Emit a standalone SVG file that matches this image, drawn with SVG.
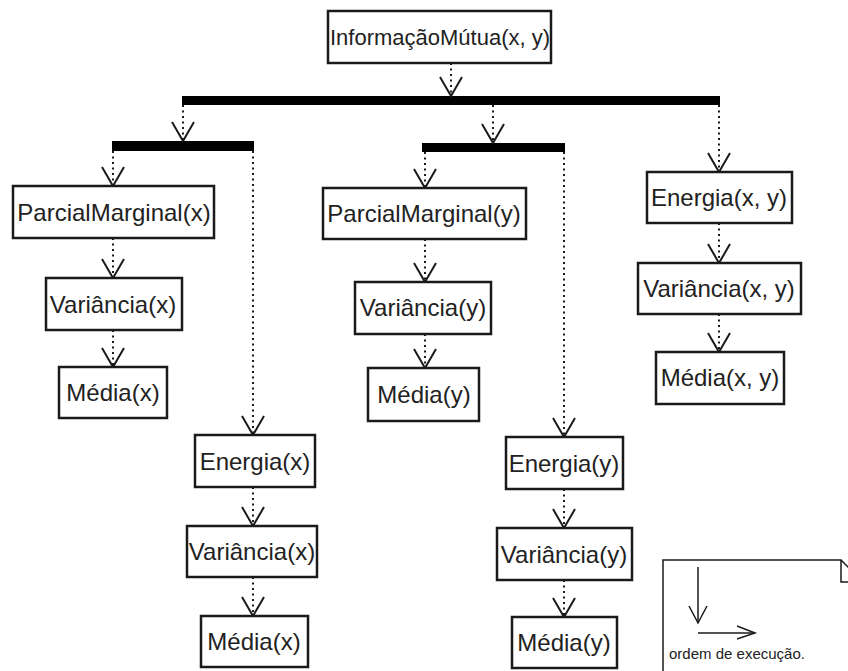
<svg xmlns="http://www.w3.org/2000/svg" width="848" height="671" viewBox="0 0 848 671">
  <style>
    .box rect { fill: #fff; stroke: #1a1a1a; stroke-width: 2.5; }
    .box text { font-family: "Liberation Sans", Arial, sans-serif; font-size: 24px; fill: #222; text-anchor: middle; }
    .flow { stroke: #1a1a1a; stroke-width: 2; stroke-dasharray: 2 3.5; fill: none; marker-end: url(#open); }
    .bar { fill: #000; }
    .legend { stroke: #1a1a1a; stroke-width: 1.5; fill: none; }
  </style>
  <defs>
    <marker id="open" markerUnits="userSpaceOnUse" viewBox="-22 -13 24 26" refX="0" refY="0" markerWidth="24" markerHeight="26" orient="auto">
      <path d="M -19 -11 L 0 0 L -19 11" fill="none" stroke="#1a1a1a" stroke-width="2" stroke-dasharray="none"/>
    </marker>
  </defs>
  <rect width="848" height="671" fill="#fff"/>

  <!-- fork bars -->
  <g id="bars">
    <rect class="bar" x="182" y="96" width="538" height="9"/>
    <rect class="bar" x="112" y="141" width="142" height="10"/>
    <rect class="bar" x="422" y="143" width="143" height="9"/>
  </g>

  <!-- execution flow -->
  <g id="connectors">
    <line class="flow" x1="451" y1="63" x2="451" y2="96"/>
    <line class="flow" x1="183" y1="105" x2="183" y2="141"/>
    <line class="flow" x1="493" y1="105" x2="493" y2="143"/>
    <line class="flow" x1="719" y1="105" x2="719" y2="172"/>
    <line class="flow" x1="113" y1="151" x2="113" y2="186"/>
    <line class="flow" x1="253" y1="151" x2="253" y2="435"/>
    <line class="flow" x1="425" y1="152" x2="425" y2="188"/>
    <line class="flow" x1="564" y1="152" x2="564" y2="437"/>
    <line class="flow" x1="113" y1="238" x2="113" y2="278"/>
    <line class="flow" x1="113" y1="330" x2="113" y2="367"/>
    <line class="flow" x1="253" y1="487" x2="253" y2="526"/>
    <line class="flow" x1="253" y1="577" x2="253" y2="616"/>
    <line class="flow" x1="425" y1="239" x2="425" y2="282"/>
    <line class="flow" x1="425" y1="334" x2="425" y2="368"/>
    <line class="flow" x1="564" y1="489" x2="564" y2="528"/>
    <line class="flow" x1="564" y1="580" x2="564" y2="617"/>
    <line class="flow" x1="719" y1="223" x2="719" y2="263"/>
    <line class="flow" x1="719" y1="314" x2="719" y2="352"/>
  </g>

  <g id="informacaoMutua" class="box">
    <rect x="328" y="11" width="223" height="52"/>
    <text x="440" y="45" style="font-size:22px">InformaçãoMútua(x, y)</text>
  </g>

  <g id="parcialMarginalX" class="box">
    <rect x="13" y="186" width="201" height="52"/>
    <text x="114" y="221">ParcialMarginal(x)</text>
  </g>
  <g id="varianciaX1" class="box">
    <rect x="46" y="278" width="136" height="52"/>
    <text x="113" y="313">Variância(x)</text>
  </g>
  <g id="mediaX1" class="box">
    <rect x="59" y="367" width="108" height="51"/>
    <text x="113" y="401">Média(x)</text>
  </g>
  <g id="energiaX" class="box">
    <rect x="195" y="435" width="120" height="52"/>
    <text x="255" y="470">Energia(x)</text>
  </g>
  <g id="varianciaX2" class="box">
    <rect x="187" y="526" width="130" height="51"/>
    <text x="252" y="560">Variância(x)</text>
  </g>
  <g id="mediaX2" class="box">
    <rect x="201" y="616" width="107" height="51"/>
    <text x="254" y="650">Média(x)</text>
  </g>

  <g id="parcialMarginalY" class="box">
    <rect x="323" y="188" width="203" height="51"/>
    <text x="424" y="222">ParcialMarginal(y)</text>
  </g>
  <g id="varianciaY1" class="box">
    <rect x="355" y="282" width="136" height="52"/>
    <text x="423" y="316">Variância(y)</text>
  </g>
  <g id="mediaY1" class="box">
    <rect x="368" y="368" width="111" height="53"/>
    <text x="424" y="403">Média(y)</text>
  </g>
  <g id="energiaY" class="box">
    <rect x="506" y="437" width="117" height="52"/>
    <text x="564" y="472">Energia(y)</text>
  </g>
  <g id="varianciaY2" class="box">
    <rect x="497" y="528" width="135" height="52"/>
    <text x="564" y="563">Variância(y)</text>
  </g>
  <g id="mediaY2" class="box">
    <rect x="512" y="617" width="105" height="51"/>
    <text x="564" y="651">Média(y)</text>
  </g>

  <g id="energiaXY" class="box">
    <rect x="647" y="172" width="145" height="51"/>
    <text x="719" y="206">Energia(x, y)</text>
  </g>
  <g id="varianciaXY" class="box">
    <rect x="638" y="263" width="163" height="51"/>
    <text x="719" y="297">Variância(x, y)</text>
  </g>
  <g id="mediaXY" class="box">
    <rect x="656" y="352" width="128" height="52"/>
    <text x="720" y="386">Média(x, y)</text>
  </g>

  <!-- legend note -->
  <g id="legenda">
    <path class="legend" d="M 663 672 L 663 560 L 841 560 L 863 582 M 841 560 L 841 582 L 863 582" fill="#fff"/>
    <line class="legend" x1="698" y1="567" x2="698" y2="623"/>
    <path class="legend" d="M 689 606 L 698 623 L 707 606"/>
    <line class="legend" x1="698" y1="633" x2="755" y2="633"/>
    <path class="legend" d="M 737 626 L 755 633 L 737 639"/>
    <text x="669" y="659" style="font-family:'Liberation Sans', Arial, sans-serif; font-size:15px; fill:#222">ordem de execução.</text>
  </g>
</svg>
